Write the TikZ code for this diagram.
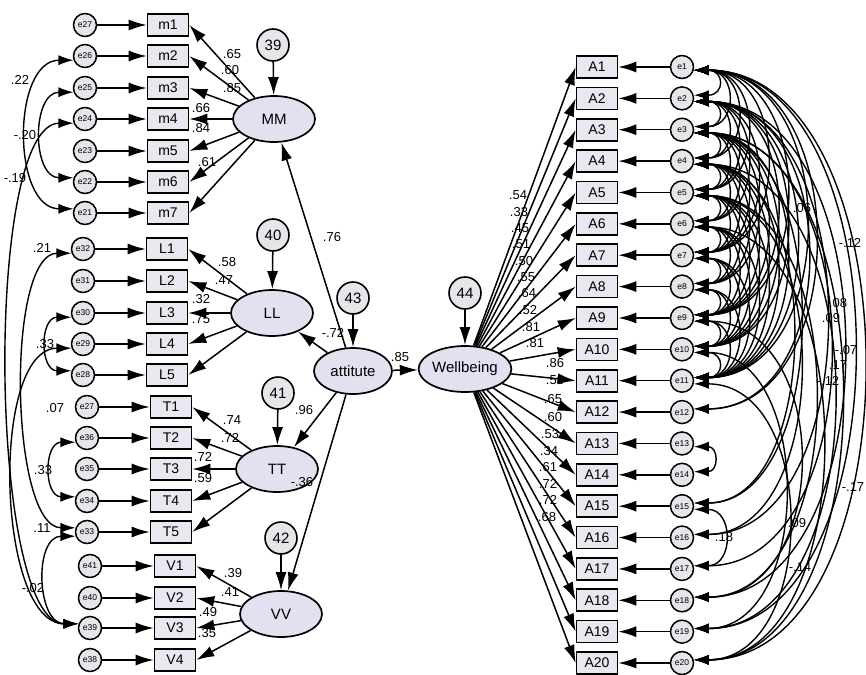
\documentclass[tikz,border=0pt]{standalone}
\usepackage{fontspec}
\setmainfont{Liberation Sans}
\usetikzlibrary{shapes.geometric,arrows.meta}
\definecolor{latfill}{HTML}{E4E0F0}
\definecolor{obsfill}{HTML}{E9E7EF}
\definecolor{errfill}{HTML}{E6E6EA}
\begin{document}
\begin{tikzpicture}[x=1pt,y=-1pt,
 obs/.style={draw,line width=1.6pt,fill=obsfill,minimum width=41pt,minimum height=22pt,inner sep=0pt,font=\fontsize{14}{14}\selectfont},
 err/.style={draw,circle,line width=1.5pt,fill=errfill,minimum size=23pt,inner sep=0pt,font=\fontsize{8.5}{8.5}\selectfont},
 res/.style={draw,circle,line width=1.6pt,fill=errfill,minimum size=32pt,inner sep=0pt,font=\fontsize{15}{15}\selectfont},
 lat/.style={draw,ellipse,line width=1.7pt,fill=latfill,minimum width=82pt,minimum height=46pt,inner sep=0pt,font=\fontsize{15}{15}\selectfont},
 arr/.style={line width=1.5pt,-{Latex[length=18pt,width=11pt]}},
 cov/.style={line width=1.4pt,{Latex[length=15pt,width=10pt]}-{Latex[length=15pt,width=10pt]}},
 lab/.style={font=\fontsize{13}{13}\selectfont,inner sep=0pt},
]
\useasboundingbox[fill=white] (0,0) rectangle (866,674);

% ---------- latent variables ----------
\node[lat] (MM) at (274,119) {MM};
\node[lat] (LL) at (272,313) {LL};
\node[lat] (TT) at (277,469) {TT};
\node[lat] (VV) at (281,614) {VV};
\node[lat,minimum width=78pt] (att) at (353,371) {attitute};
\node[lat] (W) at (465,369) {Wellbeing};

\node[res] (r39) at (273,45) {39};
\node[res] (r40) at (273,235) {40};
\node[res] (r41) at (278,393) {41};
\node[res] (r42) at (281,538) {42};
\node[res] (r43) at (353,298) {43};
\node[res] (r44) at (465,293) {44};
\draw[arr] (r39) -- (MM);
\draw[arr] (r40) -- (LL);
\draw[arr] (r41) -- (TT);
\draw[arr] (r42) -- (VV);
\draw[arr] (r43) -- (att);
\draw[arr] (r44) -- (W);

% structural paths
\draw[arr] (att) -- (MM);
\draw[arr] (att) -- (LL);
\draw[arr] (att) -- (TT);
\draw[arr] (att) -- (VV);
\draw[arr] (att) -- (W);

% ---------- left indicators ----------
\foreach \n/\y/\e in {m1/25/e27,m2/56/e26,m3/88/e25,m4/119/e24,m5/151/e23,m6/182/e22,m7/213/e21}{
  \node[obs] (\n) at (168,\y) {\n};
  \node[err] (e\n) at (85,\y) {\e};
  \draw[arr] (e\n) -- (\n);
  \draw[arr] (MM) -- (\n.east);
}
\foreach \n/\y/\e in {L1/249/e32,L2/281/e31,L3/313/e30,L4/344/e29,L5/375/e28}{
  \node[obs] (\n) at (167,\y) {\n};
  \node[err] (e\n) at (83,\y) {\e};
  \draw[arr] (e\n) -- (\n);
  \draw[arr] (LL) -- (\n.east);
}
\foreach \n/\y/\e in {T1/407/e27,T2/438/e36,T3/469/e35,T4/501/e34,T5/532/e33}{
  \node[obs] (\n) at (171,\y) {\n};
  \node[err] (e\n) at (87,\y) {\e};
  \draw[arr] (e\n) -- (\n);
  \draw[arr] (TT) -- (\n.east);
}
\foreach \n/\y/\e in {V1/566/e41,V2/598/e40,V3/628/e39,V4/660/e38}{
  \node[obs] (\n) at (175,\y) {\n};
  \node[err] (e\n) at (90,\y) {\e};
  \draw[arr] (e\n) -- (\n);
  \draw[arr] (VV) -- (\n.east);
}

% left covariances
\foreach \a/\b/\o in {em2/em7/-62, em3/em6/-42, em4/eV3/-90, eL1/eT5/-66, eL3/eL5/-32, eL4/eV3/-82, eT2/eT4/-32, eT5/eV3/-42}{
  \draw[cov] (\a.200) .. controls ([xshift=\o pt]\a.200) and ([xshift=\o pt]\b.160) .. (\b.160);
}

% loading labels (left)
\foreach \t/\x/\y in {.65/232/54,.60/230/70,.85/232/88,.66/201/108,.84/201/128,.61/207/162,
 .58/227/262,.47/224/280,.32/201/299,.75/201/319,
 .74/232/420,.72/230/438,.72/203/457,.59/203/478,
 .39/233/573,.41/230/592,.49/208/612,.35/207/633,
 .76/332/237,-.72/333/333,.96/304/410,-.36/302/482,.85/400/357,
 .22/20/80,-.20/25/135,-.19/15/178,.21/42/248,.33/45/344,.07/55/408,.33/43/470,.11/42/528,-.02/33/588}{
  \node[lab] at (\x,\y) {\t};
}

% ---------- right indicators ----------
\foreach \i in {1,...,20}{
  \pgfmathsetmacro\yy{67+(\i-1)*31.37}
  \node[obs] (A\i) at (597,\yy) {A\i};
  \node[err] (e\i) at (682,\yy) {e\i};
  \draw[arr] (e\i) -- (A\i.east);
  \draw[arr] (W) -- (A\i.west);
}

% right covariances: dense cluster among e1..e11
\foreach \i/\j in {1/2,2/3,3/4,4/5,5/6,6/7,7/8,8/9,9/10,10/11,
 1/3,2/4,3/5,4/6,5/7,6/8,7/9,8/10,9/11,
 1/4,2/5,3/6,4/7,5/8,6/9,7/10,8/11,
 1/5,2/6,3/7,4/8,5/9,6/10,7/11,
 2/7,3/8,4/9,5/10,6/11,
 1/7,3/9,4/10,5/11,
 2/9,3/10,2/10,3/11,1/9,2/11,1/11,4/11}{
  \pgfmathsetmacro\o{18+13*(\j-\i)}
  \draw[cov] (e\i.-15) .. controls ([xshift=\o pt]e\i.-15) and ([xshift=\o pt]e\j.15) .. (e\j.15);
}
% longer covariances
\foreach \i/\j/\o in {1/20/225,1/19/212,2/18/198,3/17/180,2/16/175,4/19/185,3/20/195,
 5/18/160,6/20/170,4/15/130,3/15/140,2/12/150,1/12/160,5/16/140,9/18/140,10/19/120,11/20/125,
 13/14/25,15/17/40}{
  \draw[cov] (e\i.-15) .. controls ([xshift=\o pt]e\i.-15) and ([xshift=\o pt]e\j.15) .. (e\j.15);
}

% loading labels (right)
\foreach \t/\x/\y in {.54/518/195,.33/519/212,.45/520/228,.51/521/244,.50/524/261,.55/526/277,.64/527/293,.52/528/310,.81/531/327,.81/535/343,
 .86/555/363,.58/555/380,.65/553/399,.60/553/417,.53/550/434,.34/549/451,.61/548/467,.72/548/484,.72/548/500,.68/547/517}{
  \node[lab] at (\x,\y) {\t};
}
% covariance labels (right)
\foreach \t/\x/\y in {-.12/850/243,-.17/853/487,.09/797/523,-.14/800/567,.18/724/537,.08/838/303,.09/831/318,-.07/846/350,.17/838/365,-.12/828/381,.06/802/208}{
  \node[lab] at (\x,\y) {\t};
}
\end{tikzpicture}
\end{document}
